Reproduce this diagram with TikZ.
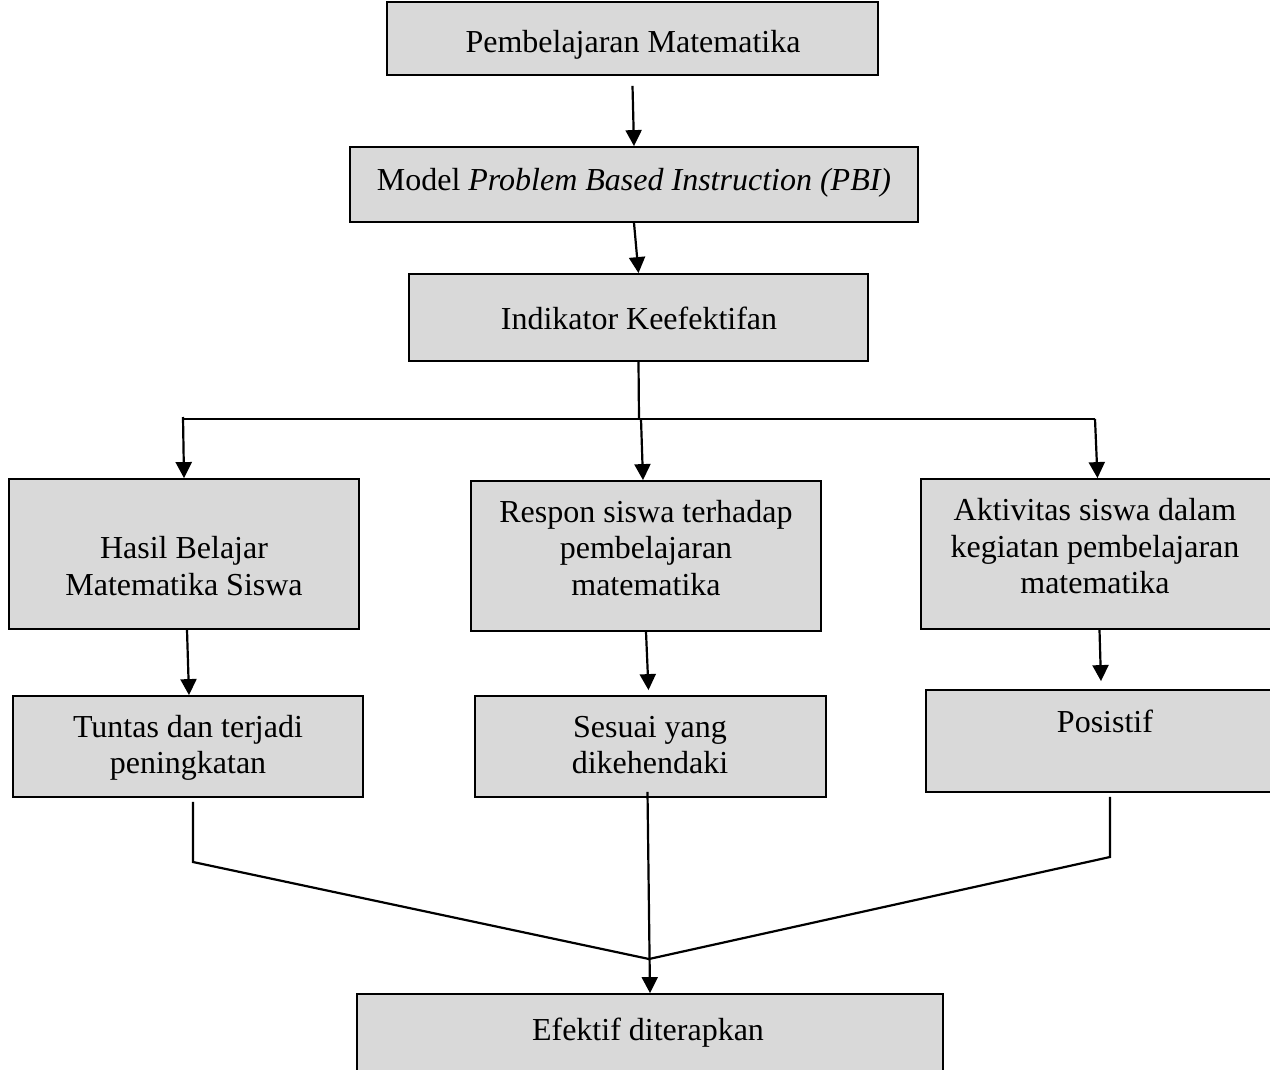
\documentclass[tikz,border=0pt]{standalone}
\usepackage{fontspec}
\setmainfont{Liberation Serif}
\usetikzlibrary{arrows.meta}
\definecolor{boxgray}{HTML}{D9D9D9}
\begin{document}
\begin{tikzpicture}[x=1pt,y=-1pt,
  box/.style={draw=black, fill=boxgray, line width=1.8pt, inner sep=0pt, rectangle},
  txt/.style={align=center, inner sep=0pt, font=\fontsize{32}{36.5}\selectfont},
  conn/.style={line width=2.2pt},
  arr/.style={line width=2.2pt, -{Triangle[length=16pt,width=16pt]}}]
\useasboundingbox (0,0) rectangle (1270,1070);
% boxes
\node[box, minimum width=491, minimum height=73] (b1) at (632.5,38.5) {};
\node[box, minimum width=568, minimum height=75] (b2) at (634,184.5) {};
\node[box, minimum width=459, minimum height=87] (b3) at (638.5,317.5) {};
\node[box, minimum width=350, minimum height=150] (b4) at (184,554) {};
\node[box, minimum width=350, minimum height=150] (b5) at (646,556) {};
\node[box, minimum width=359, minimum height=150] (b6) at (1100.5,554) {};
\node[box, minimum width=350, minimum height=101] (b7) at (188,746.5) {};
\node[box, minimum width=351, minimum height=101] (b8) at (650.5,746.5) {};
\node[box, minimum width=354, minimum height=102] (b9) at (1103,741) {};
\node[box, minimum width=586, minimum height=96] (b10) at (650,1042) {};
% texts
\node[txt] (t1) at (633,45) {Pembelajaran Matematika};
\node[txt] (t2) at (634,183) {Model \textit{Problem Based Instruction (PBI)}};
\node[txt] (t3) at (639,318) {Indikator Keefektifan};
\node[txt] (t4) at (184,566) {Hasil Belajar\\Matematika Siswa};
\node[txt] (t5) at (646,548) {Respon siswa terhadap\\pembelajaran\\matematika};
\node[txt] (t6) at (1095,546.5) {Aktivitas siswa dalam\\kegiatan pembelajaran\\matematika};
\node[txt] (t7) at (188,748) {Tuntas dan terjadi\\peningkatan};
\node[txt] (t8) at (650,745) {Sesuai yang\\dikehendaki};
\node[txt] (t9) at (1105,721) {Posistif};
\node[txt] (t10) at (648,1033) {Efektif diterapkan};
% junction coordinates
\coordinate (jc) at (639,419);
\coordinate (jl) at (183,419);
\coordinate (jr) at (1095,419);
\coordinate (tl) at (193,862);
\coordinate (tr) at (1110,857);
\coordinate (m) at (649,959);
% connectors
\draw[arr] ([yshift=-10pt]b1.south) -- (b2.north);
\draw[arr] (b2.south) -- (b3.north);
\draw[conn] (b3.south) -- (jc);
\draw[conn] (jl) -- (jr);
\draw[arr] ([yshift=2pt]jl) -- (b4.north);
\draw[arr] ([xshift=2pt]jc) -- ([xshift=-3pt]b5.north);
\draw[arr] (jr) -- ([xshift=-3pt]b6.north);
\draw[arr] ([xshift=3pt]b4.south) -- ([xshift=1pt]b7.north);
\draw[arr] (b5.south) -- ([xshift=-2pt,yshift=5pt]b8.north);
\draw[arr] ([xshift=-1pt]b6.south) -- ([xshift=-2pt,yshift=8pt]b9.north);
\draw[conn] ([xshift=5pt,yshift=-4pt]b7.south) -- (tl) -- (m);
\draw[conn] ([xshift=7pt,yshift=-4pt]b9.south) -- (tr) -- (m);
\draw[arr] ([xshift=-3pt,yshift=6pt]b8.south) -- (b10.north);
\end{tikzpicture}
\end{document}
